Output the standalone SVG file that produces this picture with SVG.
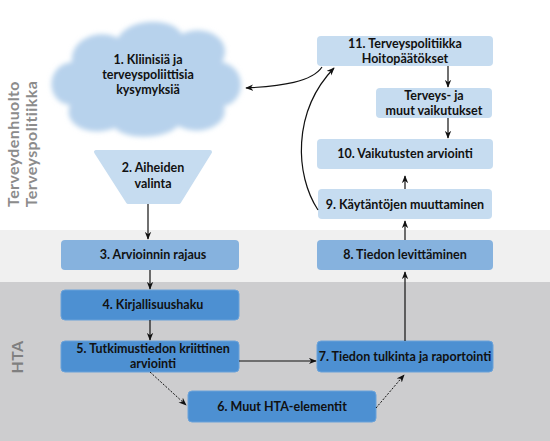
<svg xmlns="http://www.w3.org/2000/svg" width="550" height="441" viewBox="0 0 550 441">
<style>
.t{font-family:Lato,"Open Sans","Noto Sans",sans-serif;font-weight:700;font-size:12.5px;fill:#111;text-anchor:middle}
.side{font-family:Lato,"Open Sans","Noto Sans",sans-serif;font-weight:700;font-size:16px;letter-spacing:0.4px;fill:#8c8c8c;text-anchor:middle}
.light{fill:#c6dcf0}
.mid{fill:#86b2de}
.dark{fill:#4d90d2;stroke:#6aa2da;stroke-width:1}
.c{fill:none;stroke:#111;stroke-width:1.2}
.d{fill:none;stroke:#111;stroke-width:1;stroke-dasharray:2 1.5}
</style>
<defs>
<marker id="ah" viewBox="0 0 10 8" refX="9" refY="4" markerWidth="8" markerHeight="7" markerUnits="userSpaceOnUse" orient="auto">
<path d="M0,0 L10,4 L0,8 L3,4 Z" fill="#111"/>
</marker>
<filter id="blur" x="-10%" y="-10%" width="120%" height="120%">
<feGaussianBlur stdDeviation="2.5"/>
</filter>
</defs>
<rect x="0" y="0" width="550" height="441" fill="#ffffff"/>
<rect x="0" y="230" width="550" height="52" fill="#f0f0f0"/>
<rect x="0" y="282" width="550" height="159" fill="#cdcdcf"/>
<g id="side-labels">
<text class="side" transform="translate(19,144) rotate(-90)">Terveydenhuolto</text>
<text class="side" transform="translate(37,144) rotate(-90)">Terveyspolitiikka</text>
<text class="side" style="fill:#7f7f80" transform="translate(23,357) rotate(-90)">HTA</text>
</g>
<g id="n1">
<path filter="url(#blur)" fill="#b7d2ec" d="M70,105 C45,102 45,65 72,62 C70,38 100,28 118,38 C128,18 172,16 182,34 C205,22 235,40 222,62 C248,68 246,102 224,106 C230,125 200,138 178,126 C165,140 125,140 115,128 C90,138 62,125 70,105 Z"/>
<text class="t" x="148" y="64">1. Kliinisiä ja</text>
<text class="t" x="148" y="79">terveyspoliittisia</text>
<text class="t" x="148" y="94">kysymyksiä</text>
</g>
<g id="n2">
<path class="light" stroke="#c6dcf0" stroke-width="4" stroke-linejoin="round" d="M96,152 L210,152 L179,202 L128,202 Z"/>
<text class="t" x="153" y="172">2. Aiheiden</text>
<text class="t" x="153" y="188">valinta</text>
</g>
<g id="n3">
<rect class="mid" x="61" y="240" width="178" height="30" rx="4"/>
<text class="t" x="153" y="259">3. Arvioinnin rajaus</text>
</g>
<g id="n4">
<rect class="dark" x="61" y="290" width="178" height="30" rx="4"/>
<text class="t" x="153" y="309">4. Kirjallisuushaku</text>
</g>
<g id="n5">
<rect class="dark" x="61" y="341" width="178" height="31" rx="4"/>
<text class="t" x="153" y="353">5. Tutkimustiedon kriittinen</text>
<text class="t" x="153" y="368">arviointi</text>
</g>
<g id="n6">
<rect class="dark" x="188" y="391" width="188" height="31" rx="4"/>
<text class="t" x="282" y="411">6. Muut HTA-elementit</text>
</g>
<g id="n7">
<rect class="dark" x="317" y="341" width="176" height="31" rx="4"/>
<text class="t" x="405" y="361">7. Tiedon tulkinta ja raportointi</text>
</g>
<g id="n8">
<rect class="mid" x="317" y="240" width="176" height="30" rx="4"/>
<text class="t" x="405" y="259">8. Tiedon levittäminen</text>
</g>
<g id="n9">
<rect class="light" x="318" y="189" width="174" height="30" rx="4"/>
<text class="t" x="405" y="209">9. Käytäntöjen muuttaminen</text>
</g>
<g id="n10">
<rect class="light" x="317" y="139" width="176" height="30" rx="4"/>
<text class="t" x="405" y="158">10. Vaikutusten arviointi</text>
</g>
<g id="n-terveys">
<rect class="light" x="376" y="88" width="116" height="30" rx="4"/>
<text class="t" x="434" y="100">Terveys- ja</text>
<text class="t" x="434" y="115">muut vaikutukset</text>
</g>
<g id="n11">
<rect class="light" x="317" y="36" width="176" height="30" rx="4"/>
<text class="t" x="405" y="48">11. Terveyspolitiikka</text>
<text class="t" x="405" y="63">Hoitopäätökset</text>
</g>
<g id="connectors">
<line class="c" x1="148" y1="204" x2="148" y2="239" marker-end="url(#ah)"/>
<line class="c" x1="150" y1="270" x2="150" y2="289" marker-end="url(#ah)"/>
<line class="c" x1="150" y1="320" x2="150" y2="340" marker-end="url(#ah)"/>
<line class="c" x1="239" y1="361" x2="316" y2="361" marker-end="url(#ah)"/>
<line class="d" x1="150" y1="372" x2="186" y2="405" marker-end="url(#ah)"/>
<line class="d" x1="376" y1="408" x2="404" y2="375" marker-end="url(#ah)"/>
<line class="c" x1="405" y1="341" x2="405" y2="272" marker-end="url(#ah)"/>
<line class="c" x1="405" y1="240" x2="405" y2="221" marker-end="url(#ah)"/>
<line class="c" x1="405" y1="189" x2="405" y2="176" marker-end="url(#ah)"/>
<line class="c" x1="448" y1="66" x2="448" y2="87" marker-end="url(#ah)"/>
<line class="c" x1="448" y1="118" x2="448" y2="138" marker-end="url(#ah)"/>
<path class="c" d="M318,210 C295,175 292,112 334,68" marker-end="url(#ah)"/>
<path class="c" d="M322,67 C312,82 282,86 246,88" marker-end="url(#ah)"/>
</g>
</svg>
